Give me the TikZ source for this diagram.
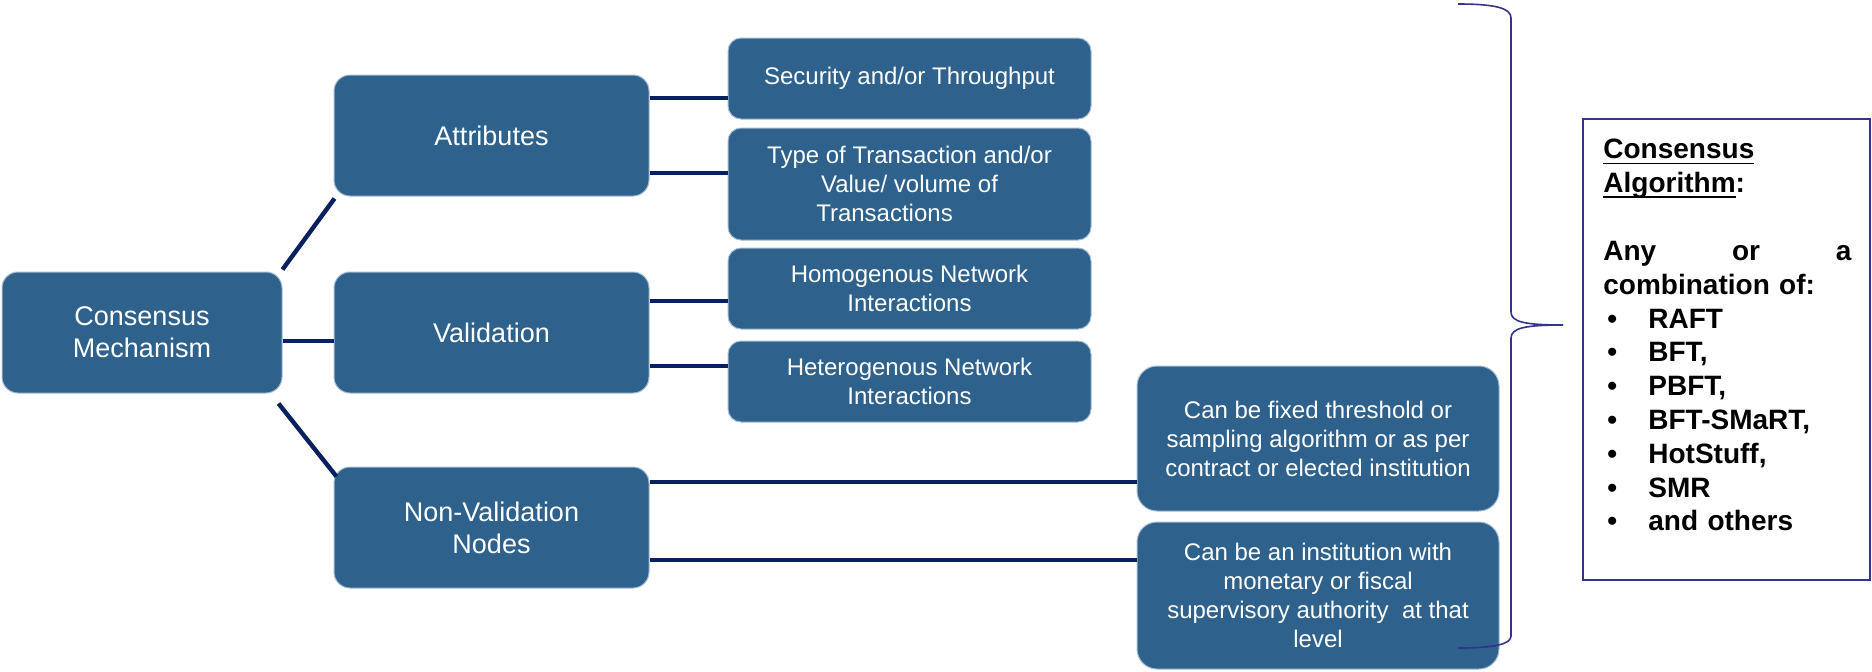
\documentclass[tikz,border=0pt]{standalone}
\usepackage{fontspec}
\setmainfont{Liberation Sans}
\usetikzlibrary{calc}
\definecolor{boxblue}{RGB}{46,98,140}
\definecolor{boxedge}{RGB}{165,188,210}
\definecolor{linknavy}{RGB}{8,32,96}
\definecolor{bracepurple}{RGB}{52,50,138}
% underline at a fixed depth below the baseline
\newcommand\ulword[1]{\leavevmode\setbox0\hbox{#1}\rlap{\rule[-2.6pt]{\wd0}{0.8pt}}\box0}
% one bulleted line of the algorithm list
\newcommand\algitem[1]{\leavevmode\hspace*{2pt}\makebox[20.5pt][l]{\textbullet}#1}
\begin{document}
\begin{tikzpicture}[x=0.5pt,y=-0.5pt,
  blk/.style={draw=boxedge, line width=0.5pt, fill=boxblue, text=white, align=center, inner sep=0pt},
  lvlone/.style={blk, rounded corners=8pt, minimum width=157.5pt, minimum height=60.5pt,
    font=\fontsize{13.5pt}{16pt}\selectfont},
  lvltwo/.style={blk, rounded corners=6.5pt, minimum width=181.5pt,
    font=\fontsize{12pt}{14.5pt}\selectfont},
  lvlthree/.style={blk, rounded corners=10pt, minimum width=181pt,
    font=\fontsize{12pt}{14.5pt}\selectfont},
  link/.style={draw=linknavy, line width=2.2pt},
  brace/.style={draw=bracepurple, line width=0.8pt}
]
\useasboundingbox (0,0) rectangle (1872,671);

% root
\node[blk, rounded corners=8pt, minimum width=140pt, minimum height=60.5pt,
  font=\fontsize{13.5pt}{16pt}\selectfont] (cm) at (142,332.5) {Consensus\\Mechanism};

% first level
\node[lvlone] (attr) at (491.5,135.5) {Attributes};
\node[lvlone] (val)  at (491.5,332.5) {Validation};
\node[lvlone] (nv)   at (491.5,527.5) {Non-Validation\\Nodes};

% second level
\node[lvltwo, minimum height=40.5pt] (sec)  at (909.5,78.5)  {Security and/or Throughput};
\node[lvltwo, minimum height=56pt]   (type) at (909.5,184)   {Type of Transaction and/or\\Value/ volume of\\Transactions\hspace*{25pt}};
\node[lvltwo, minimum height=40.5pt] (homo) at (909.5,288.5) {Homogenous Network\\Interactions};
\node[lvltwo, minimum height=40.5pt] (het)  at (909.5,381.5) {Heterogenous Network\\Interactions};
\node[lvlthree, minimum height=72.5pt] (fixed) at (1318,438.5) {Can be fixed threshold or\\sampling algorithm or as per\\contract or elected institution};
\node[lvlthree, minimum height=73.5pt] (inst)  at (1318,595.5) {Can be an institution with\\monetary or fiscal\\supervisory authority\ \ at that\\level};

% connectors
\draw[link] ($(cm.north east)+(0,-2)$) -- ($(attr.south west)+(1,2)$);
\draw[link] ($(cm.east)+(0,8.5)$) -- ($(val.west)+(0,8.5)$);
\draw[link] ($(cm.south east)+(-4,10)$) -- ($(nv.north west)+(3,10)$);
\draw[link] ($(attr.east)+(0,-37.5)$) -- ($(sec.west)+(0,19.5)$);
\draw[link] ($(attr.east)+(0,37.5)$) -- ($(type.west)+(0,-11)$);
\draw[link] ($(val.east)+(0,-31.5)$) -- ($(homo.west)+(0,12.5)$);
\draw[link] ($(val.east)+(0,33.5)$) -- ($(het.west)+(0,-15.5)$);
\draw[link] ($(nv.east)+(0,-45.5)$) -- ($(fixed.west)+(0,43.5)$);
\draw[link] ($(nv.east)+(0,32.5)$) -- ($(inst.west)+(0,-35.5)$);

% curly brace gathering everything
\coordinate (tip) at (1563,325);
\draw[brace] (1458,4) .. controls (1495,4) and (1511,8) .. (1511,18) -- (1511,312)
  .. controls (1511,322) and (1525,325) .. (tip)
  .. controls (1525,325) and (1511,328) .. (1511,338) -- (1511,636)
  .. controls (1511,644) and (1495,648) .. (1458,648);

% algorithm box
\node[draw=bracepurple, line width=1pt, minimum width=143.5pt, minimum height=230.5pt,
  inner sep=0pt] (algbox) at (1726.5,349.5) {};
\node[anchor=north west, inner sep=0pt, text width=125pt, align=left,
  font=\bfseries\fontsize{14pt}{16.9pt}\selectfont] (algtext) at (1603,139) {%
  \ulword{Consensus}\\
  \ulword{Algorithm}:\\[17pt]
  \leavevmode\hbox to 124pt{Any\hfil or\hfil a}\\
  combination of:\\
  \algitem{RAFT}\\
  \algitem{BFT,}\\
  \algitem{PBFT,}\\
  \algitem{BFT-SMaRT,}\\
  \algitem{HotStuff,}\\
  \algitem{SMR}\\
  \algitem{and others}};
\end{tikzpicture}
\end{document}
